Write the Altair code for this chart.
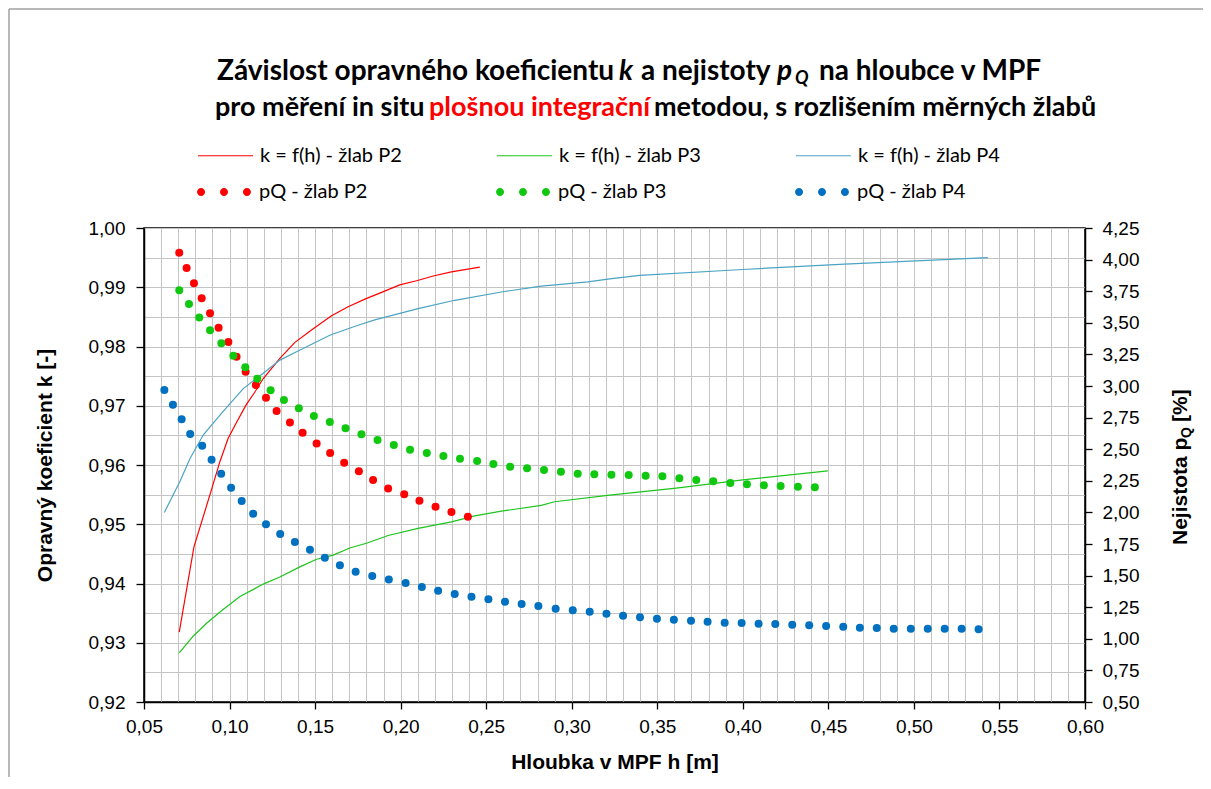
import altair as alt
import pandas as pd

# ---------------- data ----------------
SERIES_K = ["k = f(h) - žlab P2", "k = f(h) - žlab P3", "k = f(h) - žlab P4"]
SERIES_PQ = ["pQ - žlab P2", "pQ - žlab P3", "pQ - žlab P4"]
K_COLORS = ["#FF0000", "#1DC41D", "#4BA3C3"]
PQ_COLORS = ["#FF0000", "#10C810", "#0070C0"]

P2_K_H = [0.0706, 0.0792, 0.0891, 0.0944, 0.0992, 0.1043, 0.1096, 0.1150, 0.1197, 0.1294, 0.1382,
          0.1479, 0.1596, 0.1693, 0.1791, 0.1878, 0.1995, 0.2093, 0.2190, 0.2297, 0.2463]
P2_K = [0.9318, 0.9462, 0.9555, 0.9606, 0.9645, 0.9673, 0.9701, 0.9724, 0.9746, 0.9780, 0.9807,
        0.9828, 0.9852, 0.9867, 0.9880, 0.9890, 0.9904, 0.9911, 0.9919, 0.9926, 0.9934]
P3_K_H = [0.0706, 0.0787, 0.0866, 0.0953, 0.1061, 0.1197, 0.1294, 0.1411, 0.1509, 0.1606, 0.1703,
          0.1800, 0.1927, 0.2102, 0.2297, 0.2433, 0.2589, 0.2822, 0.2900, 0.3222, 0.3611, 0.4000, 0.4497]
P3_K = [0.9283, 0.9311, 0.9333, 0.9354, 0.9378, 0.9399, 0.9411, 0.9428, 0.9441, 0.9448, 0.9460,
        0.9468, 0.9481, 0.9493, 0.9504, 0.9514, 0.9522, 0.9532, 0.9538, 0.9549, 0.9561, 0.9575, 0.9590]
P4_K_H = [0.0619, 0.0710, 0.0769, 0.0847, 0.0944, 0.1080, 0.1197, 0.1294, 0.1392, 0.1489, 0.1586,
          0.1742, 0.1849, 0.2102, 0.2316, 0.2589, 0.2822, 0.3095, 0.3222, 0.3397, 0.4000, 0.4595, 0.5432]
P4_K = [0.9520, 0.9572, 0.9611, 0.9651, 0.9684, 0.9729, 0.9755, 0.9777, 0.9791, 0.9805, 0.9819,
        0.9835, 0.9845, 0.9864, 0.9878, 0.9892, 0.9902, 0.9909, 0.9914, 0.9920, 0.9930, 0.9939, 0.9950]

P2_PQ_H = [0.0706, 0.0749, 0.0792, 0.0837, 0.0886, 0.0936, 0.0993, 0.1041, 0.1094, 0.1154, 0.1213,
           0.1275, 0.1353, 0.1427, 0.1509, 0.1588, 0.1670, 0.1756, 0.1839, 0.1927, 0.2021, 0.2110,
           0.2204, 0.2297, 0.2393]
P2_PQ = [4.055, 3.934, 3.812, 3.694, 3.575, 3.461, 3.348, 3.232, 3.113, 3.008, 2.908,
         2.802, 2.712, 2.631, 2.546, 2.470, 2.393, 2.325, 2.256, 2.190, 2.143, 2.093,
         2.045, 2.003, 1.966]
P3_PQ_H = [0.0706, 0.0763, 0.0823, 0.0886, 0.0952, 0.1022, 0.1092, 0.1162, 0.1240, 0.1318, 0.1405,
           0.1493, 0.1586, 0.1678, 0.1771, 0.1865, 0.1960, 0.2055, 0.2153, 0.2250, 0.2347, 0.2447,
           0.2542, 0.2640, 0.2739, 0.2838, 0.2937, 0.3035, 0.3132, 0.3232, 0.3333, 0.3432, 0.3530,
           0.3629, 0.3728, 0.3827, 0.3927, 0.4024, 0.4123, 0.4221, 0.4322, 0.4421]
P3_PQ = [3.757, 3.649, 3.541, 3.441, 3.338, 3.240, 3.148, 3.058, 2.966, 2.889, 2.824,
         2.763, 2.715, 2.665, 2.618, 2.573, 2.533, 2.496, 2.470, 2.446, 2.425, 2.407,
         2.383, 2.362, 2.349, 2.335, 2.322, 2.306, 2.301, 2.298, 2.296, 2.290, 2.286,
         2.270, 2.256, 2.246, 2.233, 2.222, 2.214, 2.209, 2.203, 2.199]
P4_PQ_H = [0.0619, 0.0669, 0.0720, 0.0770, 0.0840, 0.0895, 0.0951, 0.1009, 0.1071, 0.1138, 0.1213,
           0.1296, 0.1382, 0.1470, 0.1557, 0.1645, 0.1737, 0.1834, 0.1931, 0.2029, 0.2124, 0.2219,
           0.2316, 0.2414, 0.2513, 0.2610, 0.2707, 0.2805, 0.2906, 0.3006, 0.3105, 0.3203, 0.3300,
           0.3399, 0.3498, 0.3597, 0.3697, 0.3794, 0.3894, 0.3993, 0.4092, 0.4190, 0.4289, 0.4388,
           0.4487, 0.4587, 0.4684, 0.4783, 0.4882, 0.4982, 0.5081, 0.5180, 0.5279, 0.5378]
P4_PQ = [2.968, 2.852, 2.736, 2.620, 2.528, 2.417, 2.306, 2.195, 2.090, 1.990, 1.906,
         1.829, 1.766, 1.705, 1.642, 1.581, 1.531, 1.497, 1.470, 1.441, 1.410, 1.381,
         1.354, 1.333, 1.312, 1.294, 1.275, 1.260, 1.238, 1.225, 1.214, 1.199, 1.183,
         1.170, 1.159, 1.151, 1.143, 1.135, 1.127, 1.125, 1.120, 1.117, 1.112, 1.107,
         1.101, 1.096, 1.088, 1.085, 1.080, 1.080, 1.080, 1.080, 1.080, 1.075]

X_GRID = [0.05, 0.06, 0.07, 0.08, 0.09, 0.10, 0.11, 0.12, 0.13, 0.14, 0.15, 0.16, 0.17, 0.18, 0.19,
          0.20, 0.21, 0.22, 0.23, 0.24, 0.25, 0.26, 0.27, 0.28, 0.29, 0.30, 0.31, 0.32, 0.33, 0.34,
          0.35, 0.36, 0.37, 0.38, 0.39, 0.40, 0.41, 0.42, 0.43, 0.44, 0.45, 0.46, 0.47, 0.48, 0.49,
          0.50, 0.51, 0.52, 0.53, 0.54, 0.55, 0.56, 0.57, 0.58, 0.59, 0.60]
YK_GRID = [0.920, 0.925, 0.930, 0.935, 0.940, 0.945, 0.950, 0.955, 0.960, 0.965, 0.970, 0.975,
           0.980, 0.985, 0.990, 0.995, 1.000]
YPQ_TICKS = [0.50, 0.75, 1.00, 1.25, 1.50, 1.75, 2.00, 2.25, 2.50, 2.75, 3.00, 3.25, 3.50, 3.75,
             4.00, 4.25]

TITLE_1 = ["Závislost opravného koeficientu", "k", "a nejistoty", "p", "Q", "na hloubce v MPF"]
TITLE_2 = ["pro měření in situ", "plošnou integrační", "metodou, s rozlišením měrných žlabů"]
X_TITLE = "Hloubka v MPF h [m]"
YK_TITLE = "Opravný koeficient k [-]"
YPQ_TITLE = ["Nejistota p", "Q", "[%]"]

# ---------------- tables ----------------
k_df = pd.concat([
    pd.DataFrame({"h": P2_K_H, "k": P2_K, "s": SERIES_K[0]}),
    pd.DataFrame({"h": P3_K_H, "k": P3_K, "s": SERIES_K[1]}),
    pd.DataFrame({"h": P4_K_H, "k": P4_K, "s": SERIES_K[2]}),
], ignore_index=True)
pq_df = pd.concat([
    pd.DataFrame({"h": P2_PQ_H, "pq": P2_PQ, "s": SERIES_PQ[0]}),
    pd.DataFrame({"h": P3_PQ_H, "pq": P3_PQ, "s": SERIES_PQ[1]}),
    pd.DataFrame({"h": P4_PQ_H, "pq": P4_PQ, "s": SERIES_PQ[2]}),
], ignore_index=True)

W, H = 941, 474
AX_FONT = "Liberation Sans"
TT_FONT = "Lato"
GRID = "#C4C4C4"

def comma(fmt):
    return f"replace(format(datum.value, '{fmt}'), '.', ',')"

X_MAJOR = "abs(datum.value*20 - round(datum.value*20)) < 0.001"
Y_MAJOR = "abs(datum.value*100 - round(datum.value*100)) < 0.01"

x_scale = alt.Scale(domain=[0.05, 0.60], nice=False, zero=False)
x_axis = alt.Axis(
    values=X_GRID, tickCount=200, labelOverlap=False, grid=True, gridColor=GRID, gridWidth=1,
    labelExpr=f"{X_MAJOR} ? {comma('.2f')} : ''",
    tickOpacity={"condition": {"test": X_MAJOR, "value": 1}, "value": 0},
    tickSize=7, tickColor="black", tickWidth=1.3, domainColor="black", domainWidth=1.5,
    labelFont=AX_FONT, labelFontSize=19, labelColor="black", labelPadding=8, labelFlush=False,
    title=X_TITLE, titleFont=AX_FONT, titleFontSize=21, titleFontWeight="bold", titleColor="black",
    titlePadding=15,
)
yk_axis = alt.Axis(
    values=YK_GRID, tickCount=200, labelOverlap=False, grid=True, gridColor=GRID, gridWidth=1,
    labelExpr=f"{Y_MAJOR} ? {comma('.2f')} : ''",
    tickOpacity={"condition": {"test": Y_MAJOR, "value": 1}, "value": 0},
    tickSize=8, tickColor="black", tickWidth=1.3, domainColor="black", domainWidth=1.5,
    labelFont=AX_FONT, labelFontSize=19, labelColor="black", labelPadding=11,
    title=YK_TITLE, titleFont=AX_FONT, titleFontSize=21, titleFontWeight="bold", titleColor="black",
    titlePadding=33,
)
ypq_axis = alt.Axis(
    orient="right", values=YPQ_TICKS, tickCount=200, labelOverlap=False, grid=False,
    labelExpr=comma(".2f"),
    tickSize=7, tickColor="black", tickWidth=1.3, domainColor="black", domainWidth=1.5,
    labelFont=AX_FONT, labelFontSize=19, labelColor="black", labelPadding=10, title=None,
)

lines = alt.Chart(k_df).mark_line(strokeWidth=1.2).encode(
    x=alt.X("h:Q", scale=x_scale, axis=x_axis),
    y=alt.Y("k:Q", scale=alt.Scale(domain=[0.92, 1.00], nice=False, zero=False), axis=yk_axis),
    stroke=alt.Stroke("s:N", scale=alt.Scale(domain=SERIES_K, range=K_COLORS), legend=alt.Legend(
        title=None, orient="none", legendX=53, legendY=-101, direction="horizontal", columns=3,
        columnPadding=92, symbolType="stroke", symbolSize=3025, symbolStrokeWidth=1.2,
        labelFont=TT_FONT, labelFontSize=20, labelColor="black", labelOffset=6, labelLimit=400,
        padding=0)),
)

DOTS = ("M -0.702 0 A 0.148 0.148 0 1 1 -0.998 0 A 0.148 0.148 0 1 1 -0.702 0 Z "
        "M 0.148 0 A 0.148 0.148 0 1 1 -0.148 0 A 0.148 0.148 0 1 1 0.148 0 Z "
        "M 0.998 0 A 0.148 0.148 0 1 1 0.702 0 A 0.148 0.148 0 1 1 0.998 0 Z")

points = alt.Chart(pq_df).mark_circle(size=64, opacity=1).encode(
    x=alt.X("h:Q", scale=x_scale),
    y=alt.Y("pq:Q", scale=alt.Scale(domain=[0.5, 4.25], nice=False, zero=False), axis=ypq_axis),
    fill=alt.Fill("s:N", scale=alt.Scale(domain=SERIES_PQ, range=PQ_COLORS), legend=alt.Legend(
        title=None, orient="none", legendX=53, legendY=-63, direction="horizontal", columns=3,
        columnPadding=128, symbolType=DOTS, symbolSize=2916, symbolStrokeWidth=0, symbolOpacity=1,
        labelFont=TT_FONT, labelFontSize=20, labelColor="black", labelOffset=8, labelLimit=400,
        padding=0)),
)

one = pd.DataFrame({"a": [0]})

def txt(t, x, y, size=28, color="black", style="normal", weight="bold", font=TT_FONT, angle=0, align="left"):
    return alt.Chart(one).mark_text(
        text=t, font=font, fontSize=size, fontWeight=weight, fontStyle=style, color=color,
        align=align, baseline="alphabetic", angle=angle,
    ).encode(x=alt.value(x), y=alt.value(y))

title_layers = [
    txt(TITLE_1[0], 73, -148),
    txt(TITLE_1[1], 475, -148, style="italic"),
    txt(TITLE_1[2], 497, -148),
    txt(TITLE_1[3], 633, -148, style="italic"),
    txt(TITLE_1[4], 651, -144, size=18, style="italic"),
    txt(TITLE_1[5], 675, -148),
    txt(TITLE_2[0], 71, -112, size=27),
    txt(TITLE_2[1], 285, -112, size=27, color="#FF0000"),
    txt(TITLE_2[2], 510, -112, size=27),
    # right axis title (rotated, with subscript)
    txt(YPQ_TITLE[0], 1043, 317, size=21, font=AX_FONT, angle=270),
    txt(YPQ_TITLE[1], 1047, 210, size=14, font=AX_FONT, angle=270),
    txt(YPQ_TITLE[2], 1043, 194, size=21, font=AX_FONT, angle=270),
]

frame_top = alt.Chart(one).mark_rule(color="#A0A0A0", strokeWidth=1.5).encode(
    x=alt.value(-135), x2=alt.value(1075), y=alt.value(-219)
)
frame_left = alt.Chart(one).mark_rule(color="#A0A0A0", strokeWidth=1.5).encode(
    x=alt.value(-135), y=alt.value(-219), y2=alt.value(549)
)

chart = alt.layer(frame_top, frame_left, lines, points, *title_layers).resolve_scale(
    y="independent"
).properties(
    width=W, height=H,
    autosize=alt.AutoSizeParams(type="none"),
    padding={"left": 136, "top": 220, "right": 118, "bottom": 75},
).configure_view(
    stroke="black", strokeWidth=1.5
)

chart.save("out.html", embed_options={"renderer": "svg", "actions": False})
